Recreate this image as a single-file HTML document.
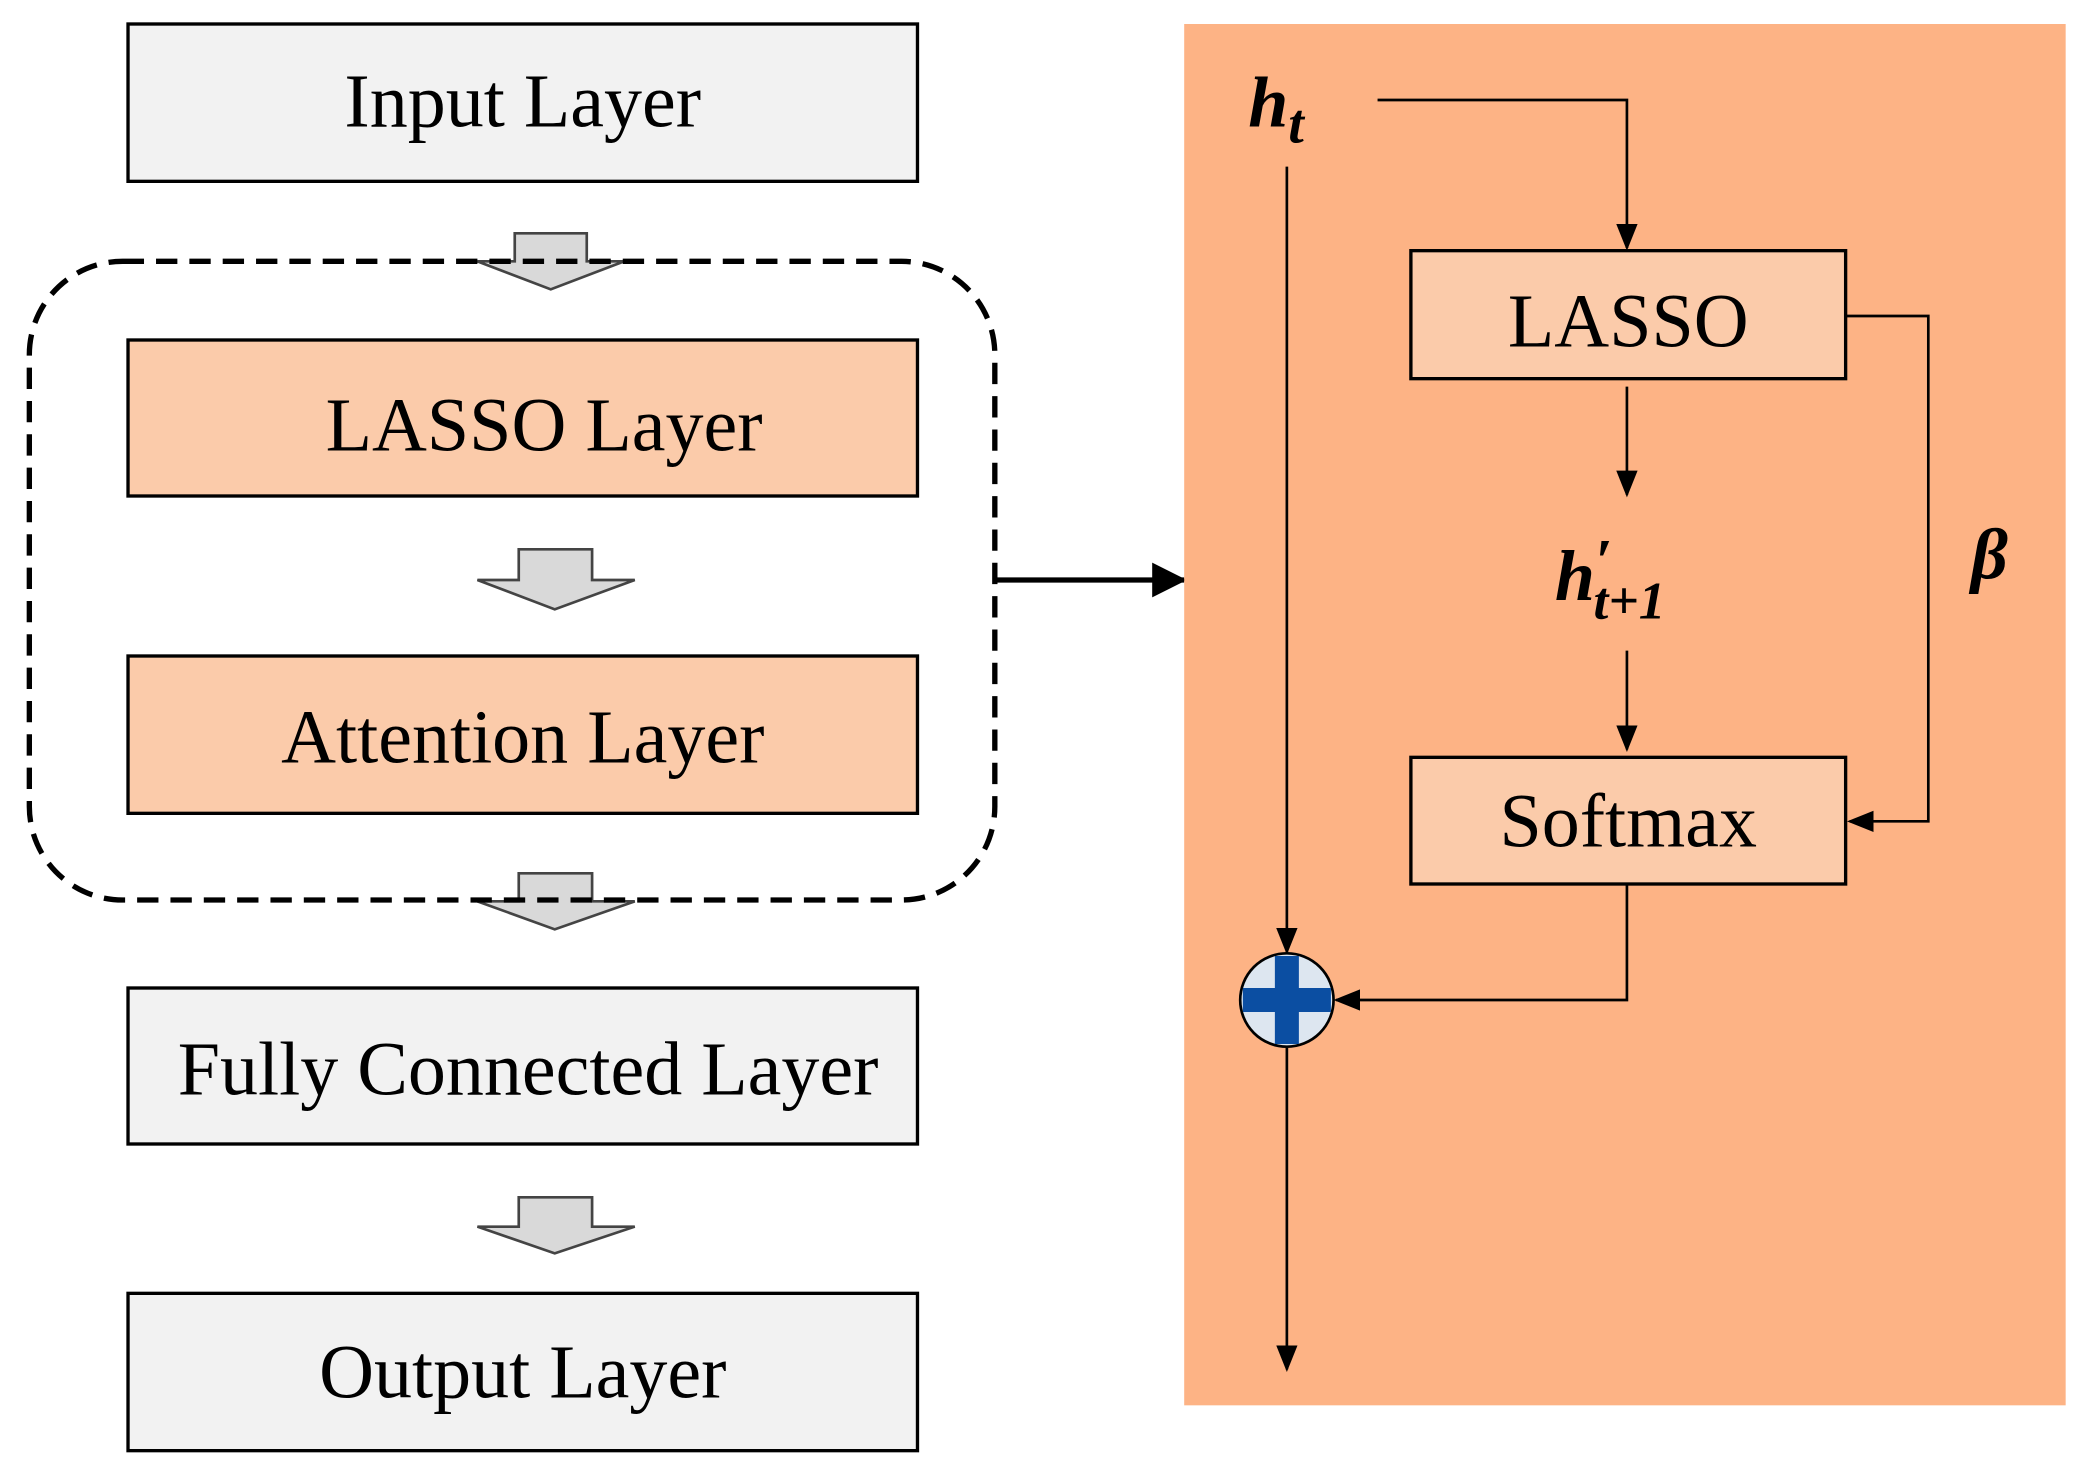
<!DOCTYPE html>
<html><head><meta charset="utf-8"><style>
html,body{margin:0;padding:0;background:#fff;}
svg{display:block;}
text{font-family:"Liberation Serif",serif;}
</style></head><body>
<svg width="2079" height="1468" viewBox="0 0 1559 1101" preserveAspectRatio="none" xmlns="http://www.w3.org/2000/svg">
<defs>
<marker id="ah" markerWidth="20" markerHeight="20" refX="18" refY="10" orient="auto" markerUnits="userSpaceOnUse" viewBox="0 0 20 20">
<path d="M0,2 L20,10 L0,18 Z" fill="#000"/></marker>
<marker id="ah2" markerWidth="26" markerHeight="26" refX="24" refY="13" orient="auto" markerUnits="userSpaceOnUse" viewBox="0 0 26 26">
<path d="M0,0 L26,13 L0,26 Z" fill="#000"/></marker>
</defs>
<rect width="1559" height="1101" fill="#fff"/>
<rect x="96" y="18" width="592" height="118" fill="#f2f2f2" stroke="#000" stroke-width="2.5"/>
<text x="392" y="95" font-size="57" text-anchor="middle">Input Layer</text>
<rect x="96" y="255" width="592" height="117" fill="#fbcbaa" stroke="#000" stroke-width="2.5"/>
<text x="408" y="338" font-size="57" text-anchor="middle">LASSO Layer</text>
<rect x="96" y="492" width="592" height="118" fill="#fbcbaa" stroke="#000" stroke-width="2.5"/>
<text x="392" y="572" font-size="57" text-anchor="middle">Attention Layer</text>
<rect x="96" y="741" width="592" height="117" fill="#f2f2f2" stroke="#000" stroke-width="2.5"/>
<text x="396" y="821" font-size="57" text-anchor="middle">Fully Connected Layer</text>
<rect x="96" y="970" width="592" height="118" fill="#f2f2f2" stroke="#000" stroke-width="2.5"/>
<text x="392" y="1048" font-size="57" text-anchor="middle">Output Layer</text>
<g fill="#d9d9d9" stroke="#444" stroke-width="2">
<path d="M386,175 H440 V196 H468 L413,217 L358,196 H386 Z"/>
<path d="M389,412 H444 V435 H476 L416,457 L358,435 H389 Z"/>
<path d="M389,655 H444 V676 H476 L416,697 L358,676 H389 Z"/>
<path d="M389,898 H444 V920 H476 L416,940 L358,920 H389 Z"/>
</g>
<rect x="22" y="196" width="724" height="479" rx="70" ry="70" fill="none" stroke="#000" stroke-width="4" stroke-dasharray="16,9"/>
<line x1="746" y1="435" x2="888" y2="435" stroke="#000" stroke-width="4" marker-end="url(#ah2)"/>
<rect x="888" y="18" width="661" height="1036" fill="#fdb385"/>
<text x="936" y="95" font-size="54" font-style="italic" font-weight="bold">h<tspan font-size="42" dy="12">t</tspan></text>
<line x1="965" y1="125" x2="965" y2="714" stroke="#000" stroke-width="2" marker-end="url(#ah)"/>
<circle cx="965" cy="750" r="35" fill="#dde6f0" stroke="#000" stroke-width="2"/>
<rect x="956" y="717" width="18" height="66" fill="#0b4ea2"/>
<rect x="932" y="741" width="66" height="18" fill="#0b4ea2"/>
<line x1="965" y1="786" x2="965" y2="1027" stroke="#000" stroke-width="2" marker-end="url(#ah)"/>
<polyline points="1033,75 1220,75 1220,186" fill="none" stroke="#000" stroke-width="2" marker-end="url(#ah)"/>
<rect x="1058" y="188" width="326" height="96" fill="#fbcbaa" stroke="#000" stroke-width="2.5"/>
<text x="1221" y="260" font-size="57" text-anchor="middle">LASSO</text>
<line x1="1220" y1="290" x2="1220" y2="371" stroke="#000" stroke-width="2" marker-end="url(#ah)"/>
<text x="1166" y="450" font-size="54" font-style="italic" font-weight="bold">h<tspan font-size="46" dy="-14">′</tspan><tspan font-size="40" dx="-14" dy="28">t+1</tspan></text>
<line x1="1220" y1="488" x2="1220" y2="562" stroke="#000" stroke-width="2" marker-end="url(#ah)"/>
<rect x="1058" y="568" width="326" height="95" fill="#fbcbaa" stroke="#000" stroke-width="2.5"/>
<text x="1221" y="635" font-size="57" text-anchor="middle">Softmax</text>
<polyline points="1384,237 1446,237 1446,616 1387,616" fill="none" stroke="#000" stroke-width="2" marker-end="url(#ah)"/>
<text x="1478" y="434" font-size="54" font-style="italic" font-weight="bold">β</text>
<polyline points="1220,663 1220,750 1002,750" fill="none" stroke="#000" stroke-width="2" marker-end="url(#ah)"/>
</svg>
</body></html>
